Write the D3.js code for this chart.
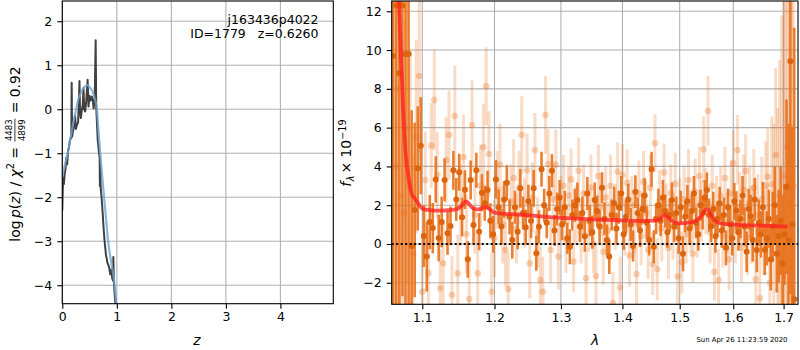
<!DOCTYPE html>
<html><head><meta charset="utf-8">
<script src="https://cdn.jsdelivr.net/npm/d3@7"></script>
<style>
body{margin:0;background:#fff;}
svg{display:block;font-family:"DejaVu Sans",sans-serif;}
</style></head><body>
<svg id="c" width="800" height="350"></svg>
<script>
// ---------------- DATA ----------------
// Left panel: log p(z) (dark, jagged) and smooth curve (blue)
const pzZ = [0.000,0.010,0.020,0.030,0.045,0.060,0.075,0.090,0.105,0.125,0.140,0.165,0.172,0.180,0.195,0.215,0.235,0.250,0.270,0.290,0.305,0.315,0.325,0.340,0.360,0.375,0.390,0.400,0.420,0.440,0.465,0.480,0.500,0.520,0.540,0.560,0.575,0.595,0.612,0.622,0.650,0.670,0.685,0.690,0.695,0.705,0.720,0.740,0.760,0.780,0.800,0.830,0.845,0.860,0.880,0.900,0.915,0.930,0.936,0.945,0.960,0.980,1.000];
const pzLog = [-2.30,-1.75,-1.55,-1.70,-1.45,-1.35,-1.10,-1.25,-0.95,-0.85,-0.70,-0.65,0.60,-0.62,-0.50,-0.40,-0.15,-0.45,-0.35,-0.30,0.20,0.64,-0.05,-0.20,0.00,0.10,0.48,0.00,-0.05,0.20,0.67,0.06,0.30,0.20,0.29,0.20,0.02,0.25,1.57,0.05,-0.70,-0.95,-1.10,-1.75,-1.20,-1.80,-2.00,-2.35,-2.75,-3.05,-3.30,-3.50,-3.54,-3.60,-3.75,-3.65,-3.84,-3.90,-3.36,-3.90,-4.20,-4.50,-4.90];
const smZ = [0.00,0.05,0.10,0.15,0.20,0.25,0.30,0.35,0.40,0.46,0.50,0.55,0.60,0.63,0.65,0.70,0.75,0.80,0.85,0.90,0.94,0.99,1.01];
const smLog = [-1.55,-1.25,-1.00,-0.65,-0.32,-0.02,0.25,0.40,0.50,0.55,0.50,0.42,0.22,0.06,-0.25,-1.07,-1.78,-2.45,-3.10,-3.50,-3.80,-4.40,-4.70];
const zTicks = [0,1,2,3,4];
const pzTicks = [-4,-3,-2,-1,0,1,2];

// Right panel: spectrum, dark beam
const darkLam = [1.062,1.066,1.070,1.074,1.078,1.082,1.086,1.090,1.094,1.098,
1.102,1.106,1.110,1.114,1.118,1.122,1.126,1.130,1.134,1.138,
1.142,1.146,1.150,1.154,1.158,1.162,1.166,1.170,1.174,1.178,
1.182,1.186,1.190,1.194,1.198,1.202,1.206,1.210,1.214,1.218,
1.222,1.226,1.230,1.234,1.238,1.242,1.246,1.250,1.254,1.258,
1.262,1.266,1.270,1.274,1.278,1.282,1.286,1.290,1.294,1.298,
1.302,1.306,1.310,1.314,1.318,1.322,1.326,1.330,1.334,1.338,
1.342,1.346,1.350,1.354,1.358,1.362,1.366,1.370,1.374,1.378,
1.382,1.386,1.390,1.394,1.398,1.402,1.406,1.410,1.414,1.418,
1.422,1.426,1.430,1.434,1.438,1.442,1.446,1.450,1.454,1.458,
1.462,1.466,1.470,1.474,1.478,1.482,1.486,1.490,1.494,1.498,
1.502,1.506,1.510,1.514,1.518,1.522,1.526,1.530,1.534,1.538,
1.542,1.546,1.550,1.554,1.558,1.562,1.566,1.570,1.574,1.578,
1.582,1.586,1.590,1.594,1.598,1.602,1.606,1.610,1.614,1.618,
1.622,1.626,1.630,1.634,1.638,1.642,1.646,1.650,1.654,1.658,
1.662,1.666,1.670,1.674,1.678,1.682,1.686,1.690,1.694,1.698,
1.702,1.706,1.710,1.714,1.718,1.722];
const darkFlux = [9.7,12.3,8.8,12.3,9.8,9.8,-0.1,1.75,3.9,5.07,
0.41,-0.65,1.13,0.82,3.33,0.31,1.13,3.3,0.55,0.93,
3.8,2.3,3.7,1.38,2.8,-0.79,3.3,0.98,3.8,0.63,
2.64,2.1,2.78,1.2,0.5,3.33,1.9,0.9,2.3,3.16,
1.4,0.2,1.9,0.63,2.87,1.6,0.86,2.2,1.2,2.87,
-0.48,0.89,3.85,2.0,1.1,2.6,3.78,0.7,1.8,2.4,
1.0,1.9,0.3,-0.14,1.5,2.0,2.27,0.9,1.6,0.4,
2.6,1.2,0.6,2.27,1.7,0.9,2.9,1.3,0.2,-0.65,
1.5,2.1,0.8,1.9,2.6,0.5,1.4,2.3,1.0,-0.1,
2.7,1.6,0.7,1.8,2.5,1.1,0.2,3.85,-0.14,1.3,
2.0,1.2,2.4,1.7,0.6,1.5,2.27,0.9,1.6,0.3,
1.9,-0.5,1.4,2.2,0.8,1.7,2.6,1.1,0.5,2.0,
1.6,2.4,2.78,1.5,0.9,1.8,0.4,1.3,2.1,0.7,
1.5,-0.2,1.9,1.0,0.3,2.2,1.72,0.6,1.3,2.5,
0.9,-0.4,1.8,1.44,0.2,2.3,-0.31,1.1,0.5,1.9,
-0.3,0.29,1.3,-0.8,0.9,2.0,-0.5,0.4,1.2,-1.0,
0.5,2.95,0.2,9.42,1.0,-2.85];
const darkErr = [15,16,14,15,13,13,7,4.5,3.2,2.5,
1.6,1.8,1.4,1.3,1.2,1.2,1.3,1.1,1.1,1.0,
1.0,1.1,0.95,1.0,1.0,0.95,1.0,0.95,0.9,0.95,
0.95,0.9,1.0,0.9,0.95,1.0,0.9,0.9,0.95,0.9,
0.9,0.95,0.85,0.9,1.0,0.85,0.9,0.85,0.9,0.95,
0.9,0.85,0.9,0.85,0.8,0.9,0.85,0.8,0.85,0.9,
0.8,0.85,0.8,0.9,0.8,0.85,0.9,0.8,0.85,0.8,
0.85,0.8,0.85,0.9,0.8,0.85,0.8,0.85,0.8,0.9,
0.8,0.85,0.8,0.85,0.9,0.8,0.85,0.8,0.85,0.8,
0.85,0.8,0.85,0.8,0.9,0.85,0.8,0.9,0.85,0.8,
0.85,0.8,0.9,0.85,0.8,0.85,0.9,0.8,0.85,0.8,
0.85,0.9,0.8,0.85,0.8,0.85,0.9,0.8,0.85,0.8,
0.85,0.9,0.9,0.85,0.8,0.9,0.85,0.9,0.85,0.9,
0.9,0.9,0.95,0.95,0.9,0.95,1.0,0.95,1.0,1.0,
1.0,1.05,1.05,1.1,1.1,1.1,1.15,1.2,1.2,1.3,
1.3,1.4,1.5,1.6,1.8,2.0,2.0,2.4,2.8,3.5,
2.6,4.5,6,12,5,14];

// Right panel: light beam
const lightLam = [1.064,1.068,1.072,1.076,1.080,1.084,1.088,1.092,1.096,1.100,
1.104,1.108,1.112,1.116,1.120,1.124,1.128,1.132,1.136,1.140,
1.144,1.148,1.152,1.156,1.160,1.164,1.168,1.172,1.176,1.180,
1.184,1.188,1.192,1.196,1.200,1.204,1.208,1.212,1.216,1.220,
1.224,1.228,1.232,1.236,1.240,1.244,1.248,1.252,1.256,1.260,
1.264,1.268,1.272,1.276,1.280,1.284,1.288,1.292,1.296,1.300,
1.304,1.308,1.312,1.316,1.320,1.324,1.328,1.332,1.336,1.340,
1.344,1.348,1.352,1.356,1.360,1.364,1.368,1.372,1.376,1.380,
1.384,1.388,1.392,1.396,1.400,1.404,1.408,1.412,1.416,1.420,
1.424,1.428,1.432,1.436,1.440,1.444,1.448,1.452,1.456,1.460,
1.464,1.468,1.472,1.476,1.480,1.484,1.488,1.492,1.496,1.500,
1.504,1.508,1.512,1.516,1.520,1.524,1.528,1.532,1.536,1.540,
1.544,1.548,1.552,1.556,1.560,1.564,1.568,1.572,1.576,1.580,
1.584,1.588,1.592,1.596,1.600,1.604,1.608,1.612,1.616,1.620,
1.624,1.628,1.632,1.636,1.640,1.644,1.648,1.652,1.656,1.660,
1.664,1.668,1.672,1.676,1.680,1.684,1.688,1.692,1.696,1.700,
1.704,1.708,1.712,1.716,1.720];
const lightFlux = [4.0,8.0,2.5,1.58,6.0,3.0,-0.5,5.53,8.66,-2.46,
3.3,-1.51,5.07,7.42,3.56,-2.28,-1.0,4.33,5.62,-2.63,
6.6,-1.51,2.0,4.47,0.5,-2.84,6.13,1.5,-1.51,3.0,
5.0,8.14,4.64,-2.46,0.3,2.8,4.1,1.0,-0.31,-2.32,
2.2,3.4,0.8,2.9,5.62,1.6,3.8,-1.0,2.4,4.85,
0.6,-1.86,-2.46,6.65,4.12,-0.31,2.3,4.09,-0.65,1.8,
3.0,0.2,2.5,3.33,-0.9,1.5,3.78,0.6,2.6,-1.77,
1.2,2.9,0.0,-1.65,3.5,1.9,-0.4,2.4,0.7,3.0,
-3.04,1.4,3.73,-2.25,3.56,0.9,3.16,-0.6,2.0,1.1,
-1.55,2.6,0.4,3.2,1.6,-0.3,2.9,-1.03,5.19,-1.3,
2.2,0.8,3.68,1.5,-0.2,2.6,0.9,3.1,-1.68,1.8,
-0.96,2.3,0.5,3.3,1.2,-0.5,2.7,0.9,3.5,1.7,
4.88,2.2,6.86,0.6,3.0,-1.43,1.8,-1.86,2.5,0.4,
3.4,1.1,-0.79,2.6,4.16,0.7,4.85,1.9,-0.2,2.8,
3.76,0.3,2.1,1.0,2.9,-1.82,1.5,-2.8,2.3,0.6,
3.0,3.47,-2.0,3.08,1.2,4.59,1.0,2.5,0.8,3.5,
1.32,5.0,2.0,6.0,3.0];
const lightErr = [15,14,12,10,8,7,5,5,4,2.8,
2.5,2.3,2.2,2.6,2.2,2.0,2.1,2.2,2.3,2.0,
2.6,2.0,2.1,2.2,2.0,2.0,2.3,2.0,2.0,2.1,
2.2,2.0,2.2,2.0,2.0,2.0,2.1,2.0,1.9,1.9,
1.9,2.0,1.8,1.9,2.0,1.8,1.9,1.8,1.8,1.9,
1.8,1.8,1.8,2.0,1.8,1.7,1.8,1.8,1.7,1.7,
1.6,1.7,1.5,1.6,1.6,1.5,1.7,1.6,1.5,1.6,
1.6,1.7,1.5,1.6,1.6,1.5,1.7,1.6,1.5,1.6,
1.6,1.7,1.5,1.6,1.6,1.5,1.7,1.6,1.5,1.6,
1.6,1.7,1.5,1.6,1.6,1.5,1.7,1.6,1.5,1.6,
1.6,1.7,1.5,1.6,1.6,1.5,1.7,1.6,1.5,1.6,
1.6,1.7,1.5,1.6,1.6,1.5,1.7,1.6,1.5,1.6,
1.7,1.7,1.8,1.6,1.6,1.5,1.7,1.6,1.5,1.6,
1.6,1.6,1.6,1.7,1.7,1.7,1.8,1.8,1.8,1.8,
1.9,1.9,1.9,2.0,2.0,2.0,2.1,2.1,2.2,2.2,
2.3,2.5,2.6,3.5,5,4.5,6,7,11,12,
13,14,15,16,16];

// Right panel: model
const modelLam = [1.066,1.070,1.0725,1.075,1.0785,1.082,1.086,1.090,1.093,1.097,1.101,1.110,1.124,1.135,1.147,1.153,1.1595,1.163,1.168,1.174,1.179,1.184,1.188,1.193,1.199,1.210,1.235,1.260,1.283,1.310,1.350,1.400,1.430,1.455,1.465,1.4735,1.480,1.490,1.500,1.518,1.530,1.540,1.550,1.556,1.563,1.575,1.600,1.650,1.708];
const modelFlux = [16,12,9.3,6.9,4.5,3.4,2.6,2.35,2.2,1.95,1.8,1.75,1.72,1.74,1.8,1.95,2.2,2.1,1.88,1.78,1.8,1.88,1.9,1.8,1.63,1.57,1.52,1.45,1.38,1.33,1.27,1.22,1.19,1.2,1.3,1.5,1.35,1.12,1.06,1.1,1.2,1.45,1.8,1.6,1.25,1.07,1.0,0.95,0.9];
const lamTicks = [1.1,1.2,1.3,1.4,1.5,1.6,1.7];
const fluxTicks = [-2,0,2,4,6,8,10,12];

// ---------------- DRAW ----------------
const svg = d3.select("#c");
const FS = 12.5;   // tick labels / annotation
const LFS = 13.9;  // axis labels
const GRID = "#b0b0b0";

function frame(g, x0, x1, y0, y1) {
  g.append("rect").attr("x", x0).attr("y", y0).attr("width", x1 - x0).attr("height", y1 - y0)
    .attr("fill", "none").attr("stroke", "#000").attr("stroke-width", 1.1);
}
function styleAxis(a) {
  a.select(".domain").remove();
  a.attr("font-size", FS).attr("font-family", "DejaVu Sans, sans-serif");
  a.selectAll(".tick line").attr("stroke", "#000").attr("stroke-width", 1.1);
  a.selectAll(".tick text").attr("fill", "#000");
}

// ---- Left panel ----
const L = {x0: 62.3, x1: 333.3, y0: 1, y1: 303.7};
const zx = d3.scaleLinear().domain([0, 4.97]).range([L.x0, L.x1]);
const zy = d3.scaleLinear().domain([-4.42, 2.46]).range([L.y1, L.y0]);
const gl = svg.append("g");
gl.append("clipPath").attr("id", "clipL").append("rect")
  .attr("x", L.x0).attr("y", L.y0).attr("width", L.x1 - L.x0).attr("height", L.y1 - L.y0);
gl.selectAll("line.gx").data(zTicks).join("line")
  .attr("x1", d => zx(d)).attr("x2", d => zx(d)).attr("y1", L.y0).attr("y2", L.y1)
  .attr("stroke", GRID).attr("stroke-width", 1.1);
gl.selectAll("line.gy").data(pzTicks).join("line")
  .attr("x1", L.x0).attr("x2", L.x1).attr("y1", d => zy(d)).attr("y2", d => zy(d))
  .attr("stroke", GRID).attr("stroke-width", 1.1);
const lc = gl.append("g").attr("clip-path", "url(#clipL)");
const smPts = smZ.map((z, i) => [z, smLog[i]]);
const pzPts = pzZ.map((z, i) => [z, pzLog[i]]);
lc.append("path").datum(pzPts)
  .attr("d", d3.line().x(d => zx(d[0])).y(d => zy(d[1])))
  .attr("fill", "none").attr("stroke", "#2b2b2b").attr("stroke-opacity", 0.9)
  .attr("stroke-width", 2).attr("stroke-linejoin", "round");
lc.append("path").datum(smPts)
  .attr("d", d3.line().x(d => zx(d[0])).y(d => zy(d[1])).curve(d3.curveCatmullRom))
  .attr("fill", "none").attr("stroke", "#6fa3cf").attr("stroke-opacity", 0.8).attr("stroke-width", 2.2);
frame(gl, L.x0, L.x1, L.y0, L.y1);
const axl = gl.append("g").attr("transform", `translate(0,${L.y1})`)
  .call(d3.axisBottom(zx).tickValues(zTicks).tickFormat(d3.format("d")).tickSize(5).tickPadding(3.5));
styleAxis(axl);
const ayl = gl.append("g").attr("transform", `translate(${L.x0},0)`)
  .call(d3.axisLeft(zy).tickValues(pzTicks).tickFormat(d3.format("d")).tickSize(5).tickPadding(5));
styleAxis(ayl);
gl.append("text").attr("x", 318.5).attr("y", 24).attr("text-anchor", "end")
  .attr("font-size", FS).text("j163436p4022");
gl.append("text").attr("x", 318.5).attr("y", 37.5).attr("text-anchor", "end")
  .attr("font-size", FS).style("white-space", "pre").text("ID=1779   z=0.6260");
gl.append("text").attr("x", 197).attr("y", 345).attr("text-anchor", "middle")
  .attr("font-size", LFS).attr("font-style", "italic").text("z");

// rich (math-like) label builder
function rich(parent, parts) {
  const g = parent.append("g");
  let x = 0;
  parts.forEach(p => {
    if (p.frac) {
      const n = g.append("text").attr("font-size", p.size).attr("y", -p.up).text(p.num);
      const d = g.append("text").attr("font-size", p.size).attr("y", p.down).text(p.den);
      const w = Math.max(n.node().getComputedTextLength(), d.node().getComputedTextLength());
      n.attr("x", x + 1.5 + w / 2).attr("text-anchor", "middle");
      d.attr("x", x + 1.5 + w / 2).attr("text-anchor", "middle");
      g.append("line").attr("x1", x + 1).attr("x2", x + w + 2).attr("y1", -p.bar).attr("y2", -p.bar)
        .attr("stroke", "#000").attr("stroke-width", 0.8);
      x += w + 3;
    } else {
      const t = g.append("text").attr("x", x).attr("y", p.dy || 0).attr("font-size", p.size || LFS)
        .attr("font-style", p.it ? "italic" : "normal").style("white-space", "pre").text(p.t);
      x += t.node().getComputedTextLength() + (p.after || 0);
    }
  });
  return {g, w: x};
}
const ylab = rich(svg, [
  {t: "log", after: 2.5}, {t: "p", it: true}, {t: "("}, {t: "z", it: true}, {t: ")"},
  {t: " / "}, {t: "χ", it: true}, {t: "2", size: 9.7, dy: -5.5}, {t: " = "},
  {frac: true, num: "4483", den: "4899", size: 8.6, up: 7.6, down: 5.0, bar: 4.6},
  {t: " = 0.92"}
]);
ylab.g.attr("transform", `translate(19.5,154) rotate(-90) translate(${-ylab.w / 2},0)`);

// ---- Right panel ----
const R = {x0: 391.7, x1: 798, y0: 1, y1: 304.3};
const lx = d3.scaleLog().domain([1.0602, 1.7298]).range([R.x0, R.x1]);
const ly = d3.scaleLinear().domain([-3.11, 12.53]).range([R.y1, R.y0]);
const gr = svg.append("g");
gr.append("clipPath").attr("id", "clipR").append("rect")
  .attr("x", R.x0).attr("y", R.y0).attr("width", R.x1 - R.x0).attr("height", R.y1 - R.y0);
gr.selectAll("line.gx").data(lamTicks).join("line")
  .attr("x1", d => lx(d)).attr("x2", d => lx(d)).attr("y1", R.y0).attr("y2", R.y1)
  .attr("stroke", GRID).attr("stroke-width", 1.1);
gr.selectAll("line.gy").data(fluxTicks).join("line")
  .attr("x1", R.x0).attr("x2", R.x1).attr("y1", d => ly(d)).attr("y2", d => ly(d))
  .attr("stroke", GRID).attr("stroke-width", 1.1);
const rc = gr.append("g").attr("clip-path", "url(#clipR)");
const ORANGE = "#e8711c";
const DARK = "#dc650e";
const light = lightLam.map((l, i) => ({l, f: lightFlux[i], e: lightErr[i]}));
const dark = darkLam.map((l, i) => ({l, f: darkFlux[i], e: darkErr[i]}));
rc.append("g").selectAll("line").data(light).join("line")
  .attr("x1", d => lx(d.l)).attr("x2", d => lx(d.l))
  .attr("y1", d => ly(d.f - d.e)).attr("y2", d => ly(d.f + d.e))
  .attr("stroke", ORANGE).attr("stroke-opacity", 0.25).attr("stroke-width", 3);
rc.append("g").selectAll("circle").data(light).join("circle")
  .attr("cx", d => lx(d.l)).attr("cy", d => ly(d.f)).attr("r", 3.3)
  .attr("fill", ORANGE).attr("fill-opacity", 0.3);
rc.append("g").selectAll("line").data(dark).join("line")
  .attr("x1", d => lx(d.l)).attr("x2", d => lx(d.l))
  .attr("y1", d => ly(d.f - d.e)).attr("y2", d => ly(d.f + d.e))
  .attr("stroke", ORANGE).attr("stroke-opacity", 0.9).attr("stroke-width", 2.6);
rc.append("g").selectAll("circle").data(dark).join("circle")
  .attr("cx", d => lx(d.l)).attr("cy", d => ly(d.f)).attr("r", 3)
  .attr("fill", DARK);
const mPts = modelLam.map((l, i) => [l, modelFlux[i]]);
rc.append("path").datum(mPts)
  .attr("d", d3.line().x(d => lx(d[0])).y(d => ly(d[1])).curve(d3.curveMonotoneX))
  .attr("fill", "none").attr("stroke", "#ff1e1e").attr("stroke-opacity", 0.75)
  .attr("stroke-width", 3.8).attr("stroke-linejoin", "round");
rc.append("line").attr("x1", R.x0).attr("x2", R.x1).attr("y1", ly(0)).attr("y2", ly(0))
  .attr("stroke", "#000").attr("stroke-width", 2).attr("stroke-dasharray", "2,2.5");
frame(gr, R.x0, R.x1, R.y0, R.y1);
const axr = gr.append("g").attr("transform", `translate(0,${R.y1})`)
  .call(d3.axisBottom(lx).tickValues(lamTicks).tickFormat(d3.format(".1f")).tickSize(5).tickPadding(3.5));
styleAxis(axr);
const ayr = gr.append("g").attr("transform", `translate(${R.x0},0)`)
  .call(d3.axisLeft(ly).tickValues(fluxTicks).tickFormat(d3.format("d")).tickSize(5).tickPadding(5));
styleAxis(ayr);
gr.append("text").attr("x", 595).attr("y", 345).attr("text-anchor", "middle")
  .attr("font-size", LFS).attr("font-style", "italic").text("λ");
const rlab = rich(svg, [
  {t: "f", it: true, after: 0.5}, {t: "λ", it: true, size: 9.7, dy: 3, after: 2}, {t: "× 10"},
  {t: "−19", size: 9.7, dy: -5.5}
]);
rlab.g.attr("transform", `translate(351,153) rotate(-90) translate(${-rlab.w / 2},0)`);
svg.append("text").attr("x", 787.5).attr("y", 341.5).attr("text-anchor", "end")
  .attr("font-size", 6.9).text("Sun Apr 26 11:23:59 2020");
</script></body></html>
